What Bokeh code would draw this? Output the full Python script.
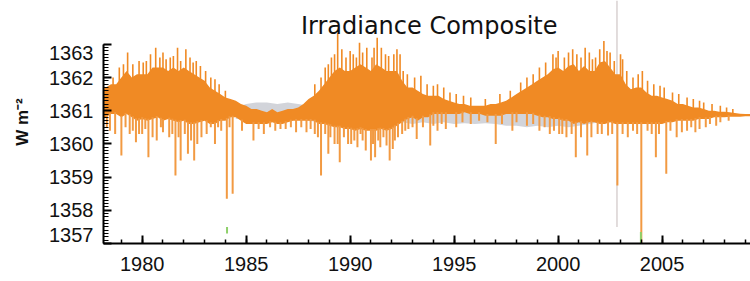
import numpy as np
from bokeh.plotting import figure
from bokeh.models import Range1d, FixedTicker, Label
from bokeh.embed import file_html
from bokeh.resources import INLINE

# ---------------- data ----------------
years = [
    1978.0, 1978.25, 1978.5, 1978.75, 1979.0, 1979.25, 1979.5, 1979.75,
    1980.0, 1980.25, 1980.5, 1980.75, 1981.0, 1981.25, 1981.5, 1981.75,
    1982.0, 1982.25, 1982.5, 1982.75, 1983.0, 1983.25, 1983.5, 1983.75,
    1984.0, 1984.25, 1984.5, 1984.75, 1985.0, 1985.25, 1985.5, 1985.75,
    1986.0, 1986.25, 1986.5, 1986.75, 1987.0, 1987.25, 1987.5, 1987.75,
    1988.0, 1988.25, 1988.5, 1988.75, 1989.0, 1989.25, 1989.5, 1989.75,
    1990.0, 1990.25, 1990.5, 1990.75, 1991.0, 1991.25, 1991.5, 1991.75,
    1992.0, 1992.25, 1992.5, 1992.75, 1993.0, 1993.25, 1993.5, 1993.75,
    1994.0, 1994.25, 1994.5, 1994.75, 1995.0, 1995.25, 1995.5, 1995.75,
    1996.0, 1996.25, 1996.5, 1996.75, 1997.0, 1997.25, 1997.5, 1997.75,
    1998.0, 1998.25, 1998.5, 1998.75, 1999.0, 1999.25, 1999.5, 1999.75,
    2000.0, 2000.25, 2000.5, 2000.75, 2001.0, 2001.25, 2001.5, 2001.75,
    2002.0, 2002.25, 2002.5, 2002.75, 2003.0, 2003.25, 2003.5, 2003.75,
    2004.0, 2004.25, 2004.5, 2004.75, 2005.0, 2005.25, 2005.5, 2005.75,
    2006.0, 2006.25, 2006.5, 2006.75, 2007.0, 2007.25, 2007.5, 2007.75,
    2008.0, 2008.25, 2008.5, 2008.75, 2009.0, 2009.25, 2009.5,
]
# upper edge of the dense daily band
upper = [
    1361.6, 1361.7, 1361.8, 1361.8, 1362.0, 1362.2, 1362.0, 1362.1,
    1362.1, 1362.1, 1362.3, 1362.3, 1362.3, 1362.2, 1362.3, 1362.2,
    1362.3, 1362.2, 1362.1, 1362.0, 1361.9, 1361.7, 1361.6, 1361.5,
    1361.4, 1361.35, 1361.3, 1361.2, 1361.15, 1361.05, 1361.05, 1361.0,
    1360.95, 1361.05, 1360.95, 1361.0, 1361.05, 1361.05, 1361.1, 1361.2,
    1361.35, 1361.45, 1361.6, 1361.8, 1362.0, 1362.2, 1362.3, 1362.2,
    1362.2, 1362.3, 1362.4, 1362.3, 1362.2, 1362.4, 1362.3, 1362.2,
    1362.2, 1362.2, 1361.9, 1361.7, 1361.7, 1361.6, 1361.5, 1361.45,
    1361.45, 1361.45, 1361.35, 1361.3, 1361.25, 1361.2, 1361.2, 1361.15,
    1361.15, 1361.15, 1361.15, 1361.2, 1361.2, 1361.25, 1361.3, 1361.4,
    1361.5, 1361.6, 1361.7, 1361.8, 1361.9, 1362.0, 1362.1, 1362.25,
    1362.3, 1362.2, 1362.35, 1362.4, 1362.2, 1362.35, 1362.2, 1362.2,
    1362.45, 1362.5, 1362.3, 1362.1, 1362.1, 1361.8, 1361.65, 1361.7,
    1361.7, 1361.55, 1361.45, 1361.45, 1361.4, 1361.35, 1361.3, 1361.2,
    1361.2, 1361.15, 1361.1, 1361.1, 1361.05, 1361.0, 1361.0, 1360.97,
    1360.97, 1360.95, 1360.93, 1360.91, 1360.9, 1360.9, 1360.9,
]
# lower edge of the dense daily band
lower = [
    1360.7, 1360.8, 1360.9, 1360.9, 1360.8, 1360.9, 1360.8, 1360.7,
    1360.75, 1360.7, 1360.75, 1360.8, 1360.7, 1360.75, 1360.7, 1360.65,
    1360.7, 1360.6, 1360.6, 1360.65, 1360.7, 1360.6, 1360.6, 1360.7,
    1360.7, 1360.8, 1360.8, 1360.7, 1360.6, 1360.6, 1360.6, 1360.6,
    1360.6, 1360.65, 1360.6, 1360.6, 1360.65, 1360.7, 1360.7, 1360.7,
    1360.7, 1360.7, 1360.6, 1360.6, 1360.55, 1360.5, 1360.5, 1360.45,
    1360.45, 1360.4, 1360.45, 1360.4, 1360.4, 1360.4, 1360.45, 1360.4,
    1360.45, 1360.55, 1360.65, 1360.75, 1360.8, 1360.7, 1360.8, 1360.8,
    1360.9, 1360.9, 1360.9, 1360.9, 1360.9, 1360.9, 1360.95, 1360.9,
    1360.9, 1360.9, 1360.85, 1360.85, 1360.85, 1360.85, 1360.9, 1360.9,
    1360.9, 1360.9, 1360.9, 1360.9, 1360.85, 1360.8, 1360.8, 1360.75,
    1360.75, 1360.7, 1360.7, 1360.6, 1360.65, 1360.6, 1360.65, 1360.65,
    1360.6, 1360.6, 1360.65, 1360.6, 1360.6, 1360.6, 1360.6, 1360.6,
    1360.6, 1360.6, 1360.6, 1360.6, 1360.6, 1360.65, 1360.65, 1360.7,
    1360.7, 1360.7, 1360.7, 1360.75, 1360.75, 1360.75, 1360.8, 1360.8,
    1360.8, 1360.82, 1360.82, 1360.82, 1360.83, 1360.83, 1360.83,
]

# isolated downward excursions (year, minimum)
dip_years = [
    1978.3, 1978.45, 1978.7, 1979.0, 1979.2, 1979.4, 1979.55, 1979.7, 1979.85,
    1980.0, 1980.15, 1980.3, 1980.5, 1980.7, 1980.9, 1981.0, 1981.3, 1981.45,
    1981.6, 1981.75, 1981.85, 1982.05, 1982.2, 1982.35, 1982.5, 1982.65,
    1982.85, 1983.1, 1983.3, 1983.5, 1983.65, 1983.8, 1984.07, 1984.2,
    1984.35, 1984.8, 1985.35, 1985.6, 1985.85, 1986.15, 1986.4, 1986.65,
    1986.9, 1987.15, 1987.4, 1987.65, 1987.9, 1988.1, 1988.3, 1988.45,
    1988.6, 1988.8, 1988.95, 1989.05, 1989.25, 1989.4, 1989.5, 1989.7,
    1989.9, 1990.05, 1990.2, 1990.35, 1990.5, 1990.6, 1990.75, 1991.0,
    1991.1, 1991.2, 1991.35, 1991.45, 1991.6, 1991.75, 1991.9, 1992.05,
    1992.15, 1992.3, 1992.5, 1992.65, 1992.8, 1993.0, 1993.2, 1993.5,
    1993.85, 1994.0, 1994.2, 1994.4, 1994.6, 1995.1, 1995.4, 1995.8,
    1996.2, 1996.6, 1997.0, 1997.3, 1997.8, 1998.0, 1998.5, 1998.8,
    1999.1, 1999.35, 1999.6, 1999.8, 2000.05, 2000.2, 2000.4, 2000.65,
    2000.85, 2001.1, 2001.4, 2001.6, 2001.9, 2002.1, 2002.4, 2002.6,
    2002.85, 2003.1, 2003.35, 2003.6, 2003.8, 2004.0, 2004.3, 2004.5,
    2004.7, 2004.85, 2005.2, 2005.4, 2005.7, 2005.95, 2006.2, 2006.4,
    2006.6, 2006.8, 2007.1, 2007.3, 2007.6, 2007.8, 2008.2,
]
dip_vals = [
    1360.5, 1360.4, 1360.3, 1359.65, 1360.5, 1360.3, 1360.4, 1360.05, 1360.3,
    1360.3, 1360.45, 1359.6, 1360.2, 1360.1, 1360.5, 1360.35, 1360.2, 1360.3,
    1359.05, 1360.2, 1359.5, 1360.3, 1359.7, 1360.1, 1359.5, 1360.0,
    1360.2, 1360.3, 1360.5, 1360.0, 1360.5, 1360.4, 1358.35, 1360.5,
    1358.5, 1360.4, 1360.1, 1360.45, 1360.3, 1360.5, 1360.4, 1360.45,
    1360.45, 1360.5, 1360.35, 1360.5, 1360.35, 1360.45, 1360.3, 1360.2,
    1359.05, 1360.3, 1359.7, 1360.2, 1360.0, 1360.0, 1359.45, 1360.2,
    1360.0, 1360.0, 1360.1, 1359.9, 1360.3, 1360.1, 1359.8, 1359.5,
    1360.0, 1359.6, 1360.1, 1359.9, 1360.2, 1359.95, 1359.5, 1359.85,
    1360.1, 1360.2, 1360.3, 1360.4, 1360.45, 1360.5, 1360.15, 1360.5,
    1359.95, 1360.55, 1360.4, 1360.6, 1360.45, 1360.5, 1360.65, 1360.6,
    1360.7, 1360.65, 1360.0, 1360.6, 1360.4, 1360.65, 1360.55, 1360.6,
    1360.4, 1360.5, 1360.3, 1360.4, 1360.3, 1360.3, 1360.2, 1360.3,
    1359.6, 1360.2, 1359.65, 1360.2, 1360.3, 1360.3, 1360.25, 1360.3,
    1358.75, 1360.3, 1360.2, 1360.4, 1360.3, 1357.0, 1360.4, 1360.3,
    1359.6, 1360.3, 1359.1, 1360.4, 1360.2, 1360.35, 1360.4, 1360.5,
    1360.35, 1360.45, 1360.5, 1360.6, 1360.55, 1360.65, 1360.7,
]

# isolated upward excursions (year, maximum)
spike_years = [
    1978.6, 1978.9, 1979.1, 1979.3, 1979.55, 1979.85, 1980.05, 1980.2, 1980.4,
    1980.65, 1980.85, 1981.0, 1981.15, 1981.35, 1981.5, 1981.7, 1981.85,
    1982.1, 1982.3, 1982.45, 1982.6, 1982.8, 1983.05, 1983.3, 1983.5,
    1983.7, 1984.0, 1988.3, 1988.6, 1988.8, 1988.95, 1989.1, 1989.25,
    1989.4, 1989.6, 1989.8, 1990.0, 1990.15, 1990.3, 1990.45, 1990.6,
    1990.8, 1991.05, 1991.15, 1991.3, 1991.5, 1991.7, 1991.85, 1992.1,
    1992.25, 1992.4, 1992.55, 1992.75, 1993.1, 1993.4, 1993.7, 1994.0,
    1994.2, 1994.5, 1994.8, 1995.1, 1995.45, 1995.8, 1996.5, 1997.2,
    1997.7, 1998.2, 1998.5, 1998.8, 1999.1, 1999.4, 1999.75, 1999.9,
    2000.0, 2000.3, 2000.5, 2000.7, 2000.9, 2001.1, 2001.3, 2001.5,
    2001.65, 2001.8, 2002.0, 2002.2, 2002.35, 2002.5, 2002.7, 2003.0,
    2003.1, 2003.3, 2003.6, 2003.85, 2004.05, 2004.3, 2004.6, 2004.9,
    2005.1, 2005.5, 2005.8, 2006.2, 2006.5, 2006.8, 2007.0, 2007.4,
    2007.8, 2008.1, 2008.4,
]
spike_vals = [
    1362.0, 1362.3, 1362.4, 1362.75, 1362.4, 1362.5, 1362.45, 1362.5, 1362.7,
    1362.9, 1362.6, 1362.75, 1362.55, 1362.6, 1362.65, 1362.9, 1362.5,
    1362.85, 1362.6, 1362.45, 1362.5, 1362.35, 1362.2, 1362.0, 1361.95,
    1361.8, 1361.6, 1361.8, 1362.0, 1362.3, 1362.4, 1362.6, 1362.7,
    1363.35, 1362.85, 1362.6, 1362.8, 1362.7, 1362.6, 1363.05, 1362.75,
    1362.9, 1362.6, 1362.9, 1363.2, 1362.9, 1362.7, 1362.65, 1362.7,
    1362.85, 1362.7, 1362.2, 1362.1, 1362.0, 1362.05, 1361.8, 1361.75,
    1361.8, 1361.7, 1361.55, 1361.5, 1361.45, 1361.4, 1361.35, 1361.5,
    1361.6, 1361.85, 1362.0, 1362.1, 1362.3, 1362.45, 1362.7, 1362.6,
    1362.8, 1362.6, 1362.75, 1362.85, 1362.7, 1362.6, 1362.9, 1362.75,
    1362.55, 1362.6, 1362.85, 1363.1, 1362.8, 1362.75, 1362.5, 1362.7,
    1362.55, 1362.2, 1362.0, 1362.1, 1362.2, 1361.9, 1361.8, 1361.75,
    1361.7, 1361.55, 1361.5, 1361.4, 1361.35, 1361.3, 1361.25, 1361.2,
    1361.15, 1361.1, 1361.05,
]

# grey background series
gray_years = [
    1984.5, 1985.0, 1985.5, 1986.0, 1986.5, 1987.0, 1987.5, 1988.0,
    1988.5, 1989.0, 1989.5, 1990.0, 1990.5, 1991.0, 1991.5, 1992.0,
    1992.5, 1993.0, 1993.5, 1994.0, 1994.5, 1995.0, 1995.5, 1996.0,
    1996.5, 1997.0, 1997.5, 1998.0, 1998.5, 1999.0, 1999.5, 2000.0,
    2000.5, 2001.0, 2001.5, 2002.0, 2002.5, 2003.0, 2003.5, 2004.0,
    2004.5, 2005.0, 2005.5, 2006.0, 2006.5, 2007.0, 2007.5, 2008.0,
]
gray_upper = [
    1361.1, 1361.2, 1361.25, 1361.25, 1361.2, 1361.25, 1361.2, 1361.15,
    1361.1, 1361.1, 1361.05, 1361.05, 1361.1, 1361.05, 1361.05, 1361.0,
    1361.05, 1361.0, 1361.05, 1361.0, 1361.05, 1361.0, 1361.05, 1361.0,
    1361.05, 1361.0, 1361.05, 1361.0, 1361.05, 1361.0, 1361.05, 1361.0,
    1361.05, 1361.0, 1361.05, 1361.0, 1361.05, 1361.0, 1361.05, 1361.0,
    1361.05, 1361.0, 1361.0, 1361.0, 1360.98, 1360.97, 1360.95, 1360.93,
]
gray_lower = [
    1360.75, 1360.75, 1360.8, 1360.8, 1360.75, 1360.8, 1360.75, 1360.7,
    1360.65, 1360.65, 1360.6, 1360.65, 1360.7, 1360.65, 1360.6, 1360.6,
    1360.65, 1360.6, 1360.65, 1360.6, 1360.65, 1360.6, 1360.62, 1360.6,
    1360.62, 1360.6, 1360.55, 1360.55, 1360.5, 1360.55, 1360.5, 1360.55,
    1360.5, 1360.55, 1360.6, 1360.65, 1360.7, 1360.72, 1360.75, 1360.75,
    1360.78, 1360.78, 1360.8, 1360.8, 1360.82, 1360.82, 1360.84, 1360.85,
]

# vertical marker line and small green marks
marker_year = 2002.83
marker_bottom = 1357.5
green_years = [1984.08, 2003.98]
green_bottom = [1357.3, 1357.0]
green_top = [1357.5, 1357.35]

x_major = [1980, 1985, 1990, 1995, 2000, 2005]
x_labels = ["1980", "1985", "1990", "1995", "2000", "2005"]
y_major = [1357, 1358, 1359, 1360, 1361, 1362, 1363]
# end labels are nudged inside the axis span, as in the original
y_labels = ["1357\n", "1358", "1359", "1360", "1361", "1362", "\n1363"]

ORANGE = "#F08A24"
ORANGE_LIGHT = "#F29A42"
GRAY = "#D2D4DA"
TEXT = "#111111"

X0, X1 = 1978.14, 2009.25
Y0, Y1 = 1357.0, 1364.32

# ---------------- figure ----------------
p = figure(width=750, height=281, output_backend="svg", toolbar_location=None,
           x_range=Range1d(X0, X1), y_range=Range1d(Y0, Y1),
           min_border_left=103, min_border_right=0, min_border_top=0,
           min_border_bottom=38)
p.outline_line_color = None
p.grid.visible = False
p.background_fill_color = "white"
p.border_fill_color = "white"

# grey series
p.varea(x=gray_years, y1=gray_lower, y2=gray_upper, fill_color=GRAY)

# vertical marker
p.segment(x0=[marker_year], y0=[marker_bottom], x1=[marker_year], y1=[Y1],
          line_color="#CFC6C6", line_width=1.2)

# orange composite: dense band + isolated excursions
p.varea(x=years, y1=lower, y2=upper, fill_color=ORANGE)
dip_tops = np.interp(dip_years, years, lower) + 0.05
p.segment(x0=dip_years, y0=dip_vals, x1=dip_years, y1=dip_tops,
          line_color=ORANGE_LIGHT, line_width=2)
spike_base = np.interp(spike_years, years, upper) - 0.05
p.segment(x0=spike_years, y0=spike_base, x1=spike_years, y1=spike_vals,
          line_color=ORANGE, line_width=1.6)

# green marks
p.segment(x0=green_years, y0=green_bottom, x1=green_years, y1=green_top,
          line_color="#8ED06A", line_width=2)

# title (overlapping the data area, as in the original)
p.add_layout(Label(x=1993.8, y=1363.54, text="Irradiance Composite",
                   text_align="center", text_baseline="alphabetic",
                   text_font="DejaVu Sans", text_font_size="24px",
                   text_color=TEXT))

# axes
xa = p.xaxis[0]
xa.ticker = FixedTicker(ticks=x_major, minor_ticks=list(range(1978, 2010)))
xa.major_label_overrides = dict(zip(x_major, x_labels))
xa.axis_line_width = 2
xa.major_tick_in = 8
xa.major_tick_out = 0
xa.minor_tick_in = 4
xa.minor_tick_out = 0
xa.major_tick_line_width = 2
xa.minor_tick_line_width = 1.5
xa.major_label_standoff = 13
xa.major_label_text_font = "Liberation Sans"
xa.major_label_text_font_size = "20px"
xa.major_label_text_color = TEXT

ya = p.yaxis[0]
ya.bounds = (1357, 1363)
ya.ticker = FixedTicker(ticks=y_major,
                        minor_ticks=[1357 + 0.1 * i for i in range(61)])
ya.major_label_overrides = dict(zip(y_major, y_labels))
ya.axis_line_width = 2
ya.major_tick_in = 8
ya.major_tick_out = 0
ya.minor_tick_in = 5
ya.minor_tick_out = 0
ya.major_tick_line_width = 2
ya.minor_tick_line_width = 1
ya.major_label_standoff = 10
ya.major_label_text_font = "Liberation Sans"
ya.major_label_text_font_size = "20px"
ya.major_label_text_color = TEXT
ya.major_label_text_line_height = 0.8
ya.axis_label = "W m\u207b\u00b2"
ya.axis_label_text_font = "Liberation Sans"
ya.axis_label_text_font_style = "bold"
ya.axis_label_text_font_size = "17px"
ya.axis_label_standoff = 14
ya.axis_label_text_color = TEXT

open("out.html", "w").write(file_html(p, INLINE))
